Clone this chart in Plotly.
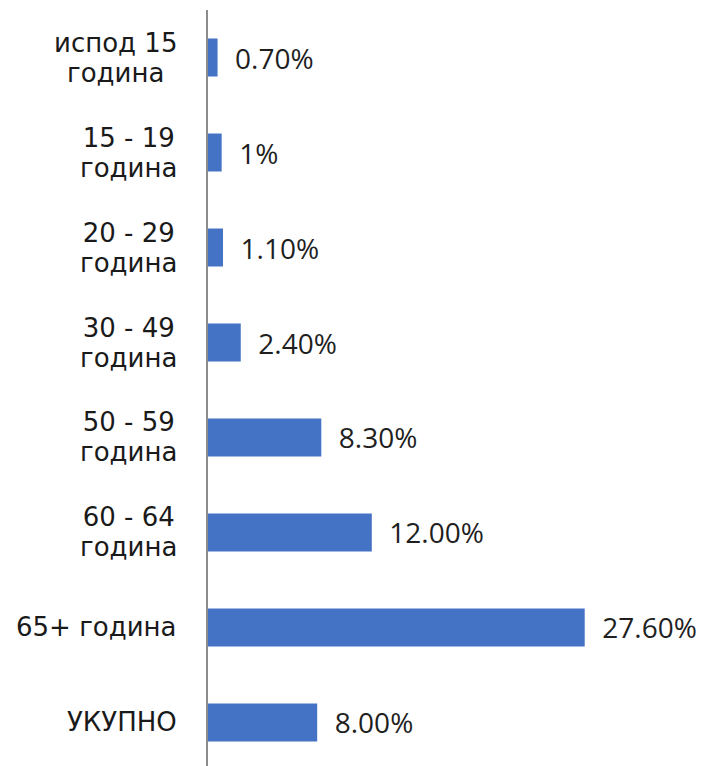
import plotly.graph_objects as go

categories = ["испод 15<br>година", "15 - 19<br>година", "20 - 29<br>година",
              "30 - 49<br>година", "50 - 59<br>година", "60 - 64<br>година",
              "65+ година", "УКУПНО"]
values = [0.7, 1.0, 1.1, 2.4, 8.3, 12.0, 27.6, 8.0]
value_labels = ["0.70%", "1%", "1.10%", "2.40%", "8.30%", "12.00%", "27.60%", "8.00%"]

idx = list(range(len(categories)))

fig = go.Figure()
fig.add_trace(go.Bar(
    x=values, y=idx, orientation="h",
    marker=dict(color="#4472C4", line=dict(width=0)),
    text=value_labels, textposition="outside",
    texttemplate="\u00a0\u00a0%{text}",
    textfont=dict(family="Open Sans", size=28, color="#1f1f1f"),
    cliponaxis=False, hoverinfo="skip",
))

for i, c in zip(idx, categories):
    styled = "<br>".join(f"<span style='font-size:26px'>{part}</span>" for part in c.split("<br>"))
    fig.add_annotation(
        x=0, xref="paper", y=i, yref="y", text=styled, showarrow=False,
        xanchor="right", yanchor="middle", align="center", xshift=-29,
        font=dict(family="DejaVu Sans", size=23, color="#1a1a1a"),
    )

fig.update_layout(
    width=704, height=766,
    margin=dict(l=208, r=0, t=10, b=0),
    paper_bgcolor="white", plot_bgcolor="white",
    bargap=0.6, showlegend=False,
)
fig.update_xaxes(range=[0, 36.34], visible=False, showgrid=False, zeroline=False)
fig.update_yaxes(range=[7.458, -0.5], showticklabels=False, showgrid=False,
                 zeroline=False, showline=True, linecolor="#8c8c8c", linewidth=1.5,
                 ticks="")

fig.write_html("out.html", config={"displayModeBar": False},
               post_script="document.body.style.margin='0';")
